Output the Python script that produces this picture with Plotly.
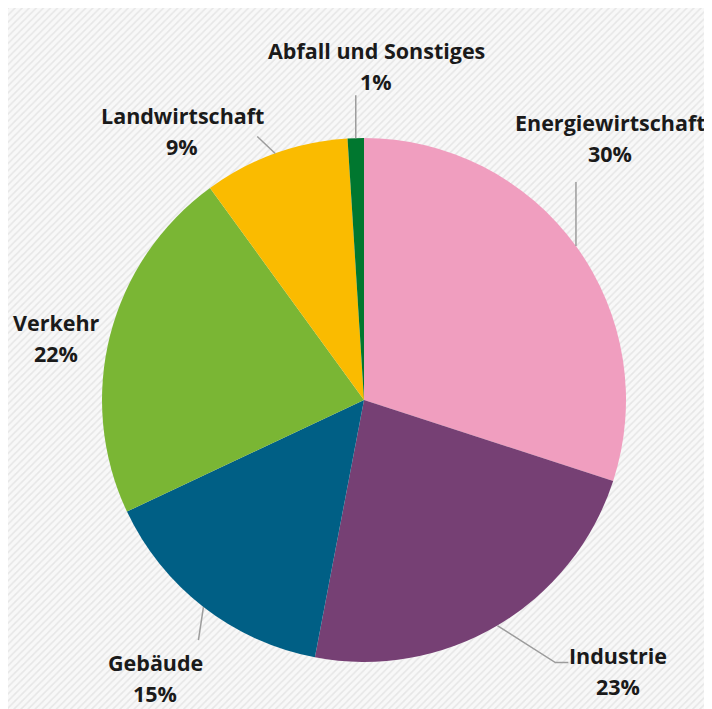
import math
import plotly.graph_objects as go

# ---------------- data ----------------
categories = ["Energiewirtschaft", "Industrie", "Gebäude", "Verkehr",
              "Landwirtschaft", "Abfall und Sonstiges"]
shares = [30, 23, 15, 22, 9, 1]
pct_labels = ["30%", "23%", "15%", "22%", "9%", "1%"]

# ---------------- style ----------------
# the page body adds an 8px white margin; the figure covers the hatched area
X0, Y0, X1, Y1 = 8, 8, 706, 709
W, H = X1 - X0, Y1 - Y0
colors = ["#F09EBF", "#764074", "#005F85", "#7AB634", "#FABB00", "#00772F"]
CX, CY, R = 364, 400, 262          # pie centre / radius (page pixels)
FONT = "Open Sans"
FS = 21.5
label_pos = {
    "Energiewirtschaft": (610, 122),
    "Industrie": (618, 655),
    "Gebäude": (155, 662),
    "Verkehr": (56, 322),
    "Landwirtschaft": (182, 115),
    "Abfall und Sonstiges": (376, 50),
}
LINE_GAP = 31
leader_paths = {
    "Energiewirtschaft": [(0, -64)],
    "Industrie": [(58, 37), (71, 37)],
    "Gebäude": [(-5, 33)],
    "Verkehr": None,
    "Landwirtschaft": [(-18, -17)],
    "Abfall und Sonstiges": [(0, -43)],
}

fig = go.Figure()

fig.add_trace(go.Scatter(
    x=[X0, X1, X1, X0, X0], y=[Y0, Y0, Y1, Y1, Y0],
    mode="lines", fill="toself", line=dict(width=0, color="rgba(0,0,0,0)"),
    fillcolor="#f4f4f4",
    fillpattern=dict(shape="/", fgcolor="#d4d4d4", bgcolor="#f8f8f8",
                     size=5, solidity=0.3),
    hoverinfo="skip", showlegend=False,
))

fig.add_trace(go.Pie(
    labels=categories, values=shares, sort=False, direction="clockwise",
    rotation=0, textinfo="none", hoverinfo="label+percent",
    marker=dict(colors=colors, line=dict(width=0)),
    domain=dict(x=[(CX - R - X0) / W, (CX + R - X0) / W],
                y=[(Y1 - CY - R) / H, (Y1 - CY + R) / H]),
    showlegend=False,
))

total = sum(shares)
cum = 0
annotations = []
shapes = []
for cat, val, pct in zip(categories, shares, pct_labels):
    mid = (cum + val / 2) / total * 2 * math.pi
    cum += val
    ex = CX + R * math.sin(mid)
    ey = CY - R * math.cos(mid)
    path = leader_paths[cat]
    if path:
        pts = [(ex, ey)] + [(ex + dx, ey + dy) for dx, dy in path]
        d = "M " + " L ".join(f"{px},{py}" for px, py in pts)
        shapes.append(dict(type="path", path=d, xref="x", yref="y",
                           line=dict(color="#9c9c9c", width=1.5)))
    lx, ly = label_pos[cat]
    for txt, yy in ((cat, ly), (pct, ly + LINE_GAP)):
        annotations.append(dict(x=lx, y=yy, xref="x", yref="y",
                                text=f"<b>{txt}</b>", showarrow=False,
                                xanchor="center", yanchor="middle",
                                font=dict(family=FONT, size=FS, color="#1a1a1a")))

fig.update_layout(
    width=W, height=H,
    margin=dict(l=0, r=0, t=0, b=0),
    paper_bgcolor="white", plot_bgcolor="white",
    xaxis=dict(range=[X0, X1], visible=False, fixedrange=True),
    yaxis=dict(range=[Y1, Y0], visible=False, fixedrange=True),
    annotations=annotations, shapes=shapes,
)

fig.write_html("out.html")
